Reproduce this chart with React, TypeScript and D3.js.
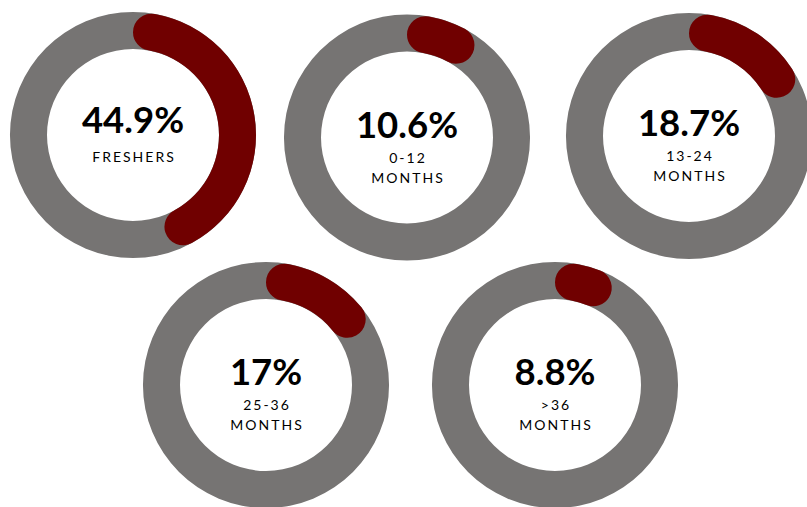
import React from "react";
import * as d3 from "d3";

const values = [44.9, 10.6, 18.7, 17, 8.8];
const percentLabels = ["44.9%", "10.6%", "18.7%", "17%", "8.8%"];
const categoryLines = [["FRESHERS"], ["0-12", "MONTHS"], ["13-24", "MONTHS"], ["25-36", "MONTHS"], [">36", "MONTHS"]];

const W = 807;
const H = 507;
const centers: [number, number][] = [
  [133, 135],
  [407, 137.5],
  [689, 136],
  [266, 385],
  [555, 385],
];
const R_OUT = 123;
const R_IN = 86;
const GREY = "#767473";
const RED = "#700000";

export default function App() {
  const angle = d3.scaleLinear().domain([0, 100]).range([0, 2 * Math.PI]);
  const ring = d3.arc<any>().innerRadius(R_IN).outerRadius(R_OUT).startAngle(0).endAngle(2 * Math.PI);
  const valueArc = d3
    .arc<any>()
    .innerRadius(R_IN)
    .outerRadius(R_OUT)
    .cornerRadius((R_OUT - R_IN) / 2)
    .startAngle(0)
    .endAngle((d: number) => angle(d));

  return (
    <svg
      width={W}
      height={H}
      style={{ position: "absolute", left: 0, top: 0, background: "#ffffff" }}
      fontFamily="Lato, 'Open Sans', sans-serif"
    >
      {values.map((v, i) => {
        const [cx, cy] = centers[i];
        const lines = categoryLines[i];
        const single = lines.length === 1;
        return (
          <g key={i} transform={`translate(${cx},${cy})`}>
            <path d={ring(null) as string} fill={GREY} />
            <path d={valueArc(v) as string} fill={RED} />
            <text
              x={0}
              y={single ? -2 : 0}
              textAnchor="middle"
              fontSize={36.5}
              fontWeight={700}
              fill="#000"
            >
              {percentLabels[i]}
            </text>
            {lines.map((ln, j) => (
              <text
                key={j}
                x={1}
                y={(single ? 27 : 25) + j * 20}
                textAnchor="middle"
                fontSize={14}
                letterSpacing={2}
                fill="#000"
              >
                {ln}
              </text>
            ))}
          </g>
        );
      })}
    </svg>
  );
}
